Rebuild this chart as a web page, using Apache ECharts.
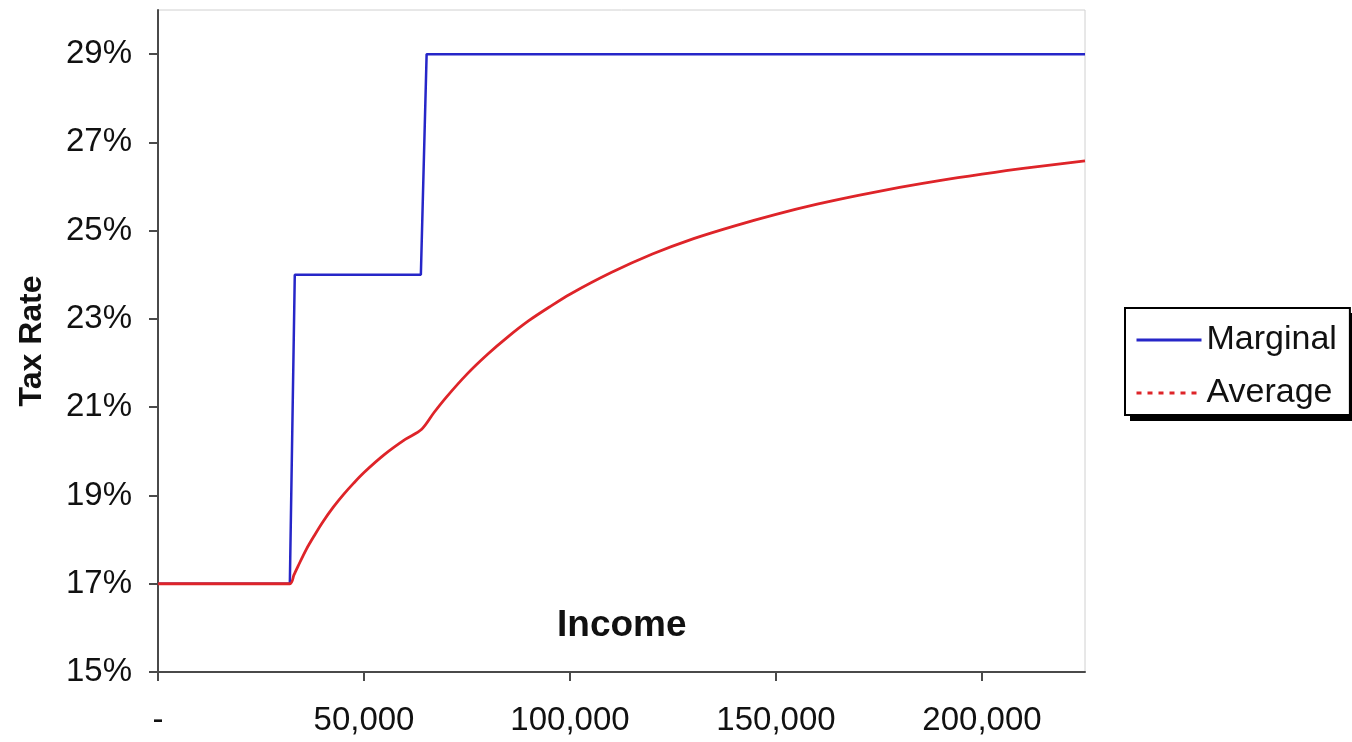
<!DOCTYPE html>
<html>
<head>
<meta charset="utf-8">
<script src="https://cdn.jsdelivr.net/npm/echarts@6/dist/echarts.min.js"></script>
<style>
  html, body { margin: 0; padding: 0; background: #fff; }
  #chart { width: 1352px; height: 742px; }
</style>
</head>
<body>
<div id="chart"></div>
<script>
  // values
  var marginalIncome = [0, 32000, 33200, 63800, 65200, 225000];
  var marginalRate = [17, 17, 24, 24, 29, 29];
  var averageIncome = [0, 32000, 33000, 34000, 36000, 38000, 40000, 42500, 45000, 47500, 50000, 55000, 60000, 64000,
    67000, 70000, 75000, 80000, 85000, 90000, 95000, 100000, 110000, 120000, 130000, 140000, 150000, 160000,
    170000, 180000, 190000, 200000, 210000, 225000];
  var averageRate = [17, 17, 17.2, 17.4, 17.78, 18.1, 18.4, 18.73, 19.02, 19.28, 19.52, 19.93, 20.27, 20.5,
    20.88, 21.23, 21.75, 22.2, 22.6, 22.96, 23.27, 23.56, 24.05, 24.47, 24.82, 25.11, 25.37, 25.6,
    25.8, 25.98, 26.14, 26.28, 26.41, 26.58];
  var xTicks = [0, 50000, 100000, 150000, 200000];
  var yTicks = [15, 17, 19, 21, 23, 25, 27, 29];

  function pairs(xs, ys) {
    return xs.map(function(x, i) { return [x, ys[i]]; });
  }

  var font = "'Liberation Sans', Arial, sans-serif";
  var axisColor = '#4a4a4a';

  var chart = echarts.init(document.getElementById('chart'), null, { renderer: 'canvas' });
  chart.setOption({
    animation: false,
    textStyle: { fontFamily: font },
    grid: { left: 158, right: 267, top: 10, bottom: 70, show: true, borderColor: '#d0d0d0', borderWidth: 1 },
    title: {
      text: 'Income', left: 552, top: 602,
      textStyle: { fontFamily: font, fontSize: 37, fontWeight: 'bold', color: '#111' }
    },
    // drop shadow behind the legend box
    graphic: [{
      type: 'rect', z: 1, silent: true,
      shape: { x: 1130, y: 313, width: 222, height: 108 },
      style: { fill: '#000' }
    }],
    legend: {
      orient: 'vertical', left: 1125, top: 308, z: 10,
      padding: [14, 13, 4, 10],
      itemWidth: 65, itemHeight: 14, itemGap: 17,
      backgroundColor: '#fff', borderColor: '#000', borderWidth: 2,
      textStyle: { fontFamily: font, fontSize: 34, color: '#111', lineHeight: 36 },
      data: [
        { name: 'Marginal', itemStyle: { opacity: 0 }, lineStyle: { width: 3 } },
        { name: 'Average', itemStyle: { opacity: 0 }, lineStyle: { type: [5, 6], width: 3 } }
      ]
    },
    xAxis: {
      type: 'value', min: 0, max: 225000,
      splitLine: { show: false },
      axisLine: { onZero: false, lineStyle: { color: axisColor, width: 2 } },
      axisTick: { length: 9, lineStyle: { color: axisColor, width: 2 }, customValues: xTicks },
      axisLabel: {
        customValues: xTicks, margin: 32, fontSize: 33, color: '#111',
        formatter: function(v) { return v === 0 ? '-' : v.toLocaleString('en-US'); }
      }
    },
    yAxis: {
      type: 'value', min: 15, max: 30,
      name: 'Tax Rate', nameLocation: 'middle', nameGap: 110, nameRotate: 90,
      nameTextStyle: { fontFamily: font, fontSize: 32, fontWeight: 'bold', color: '#111' },
      splitLine: { show: false },
      axisLine: { lineStyle: { color: axisColor, width: 2 } },
      axisTick: { length: 9, lineStyle: { color: axisColor, width: 2 }, customValues: yTicks },
      axisLabel: {
        customValues: yTicks, margin: 26, fontSize: 33, color: '#111',
        formatter: function(v) { return v + '%'; }
      }
    },
    series: [
      {
        name: 'Marginal', type: 'line', data: pairs(marginalIncome, marginalRate),
        symbol: 'none', lineStyle: { color: '#2626c8', width: 2.5 }, itemStyle: { color: '#2626c8' }
      },
      {
        name: 'Average', type: 'line', data: pairs(averageIncome, averageRate),
        symbol: 'none', smooth: 0.3,
        lineStyle: { color: '#de2429', width: 2.8 }, itemStyle: { color: '#de2429' }
      }
    ]
  });
</script>
</body>
</html>
